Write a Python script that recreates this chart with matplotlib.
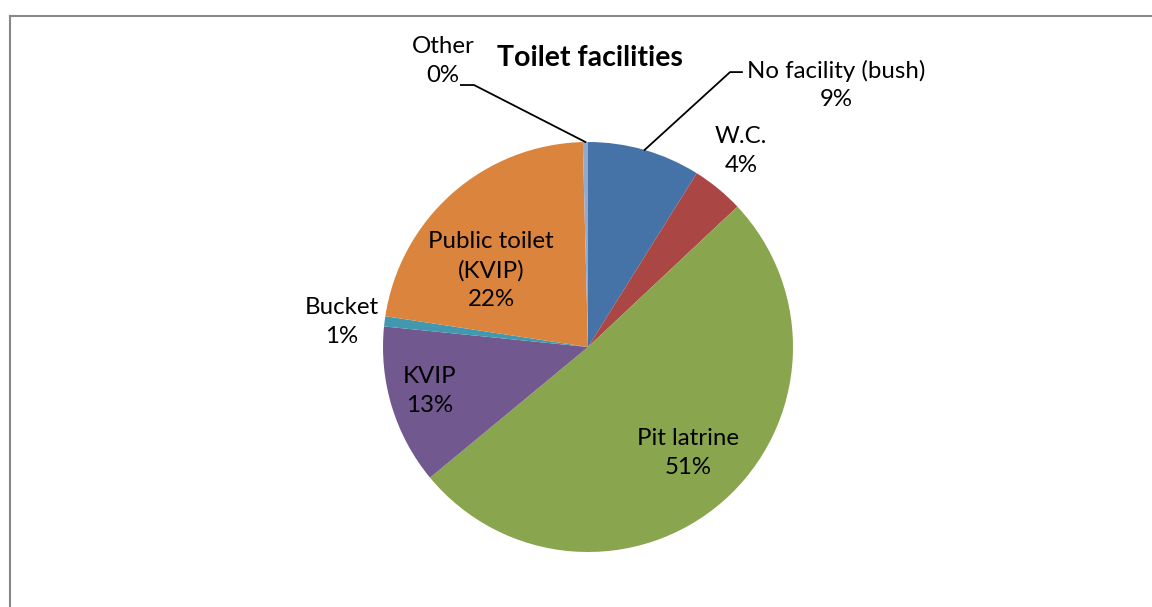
import numpy as np
import matplotlib
matplotlib.use("Agg")
import matplotlib.pyplot as plt
from matplotlib.lines import Line2D

# data
categories = ["No facility (bush)", "W.C.", "Pit latrine", "KVIP", "Bucket",
              "Public toilet\n(KVIP)", "Other"]
shares = [8.9, 4.1, 51.0, 12.6, 0.8, 22.2, 0.4]
colors = ["#4572A7", "#AA4643", "#89A54E", "#71588F", "#4198AF", "#DB843D", "#93A9CF"]

# label centres, in pie radii from the centre
label_xy = [(1.21, 1.278), (0.746, 0.956), (0.488, -0.517), (-0.771, -0.215),
            (-1.2, 0.122), (-0.473, 0.371), (-0.707, 1.395)]

W, H = 1152, 607
fig = plt.figure(figsize=(W / 100, H / 100), dpi=100)
ax = fig.add_axes([0, 0, 1, 1])

cx, cy, r = 588, 607 - 347, 205
wedges, _ = ax.pie(shares, colors=colors, startangle=90, counterclock=False,
                   radius=r, center=(cx, cy), frame=True,
                   wedgeprops=dict(linewidth=0))
ax.set_xlim(0, W)
ax.set_ylim(0, H)
ax.set_aspect("equal")
ax.axis("off")

font = "Lato"
for name, v, (lx, ly) in zip(categories, shares, label_xy):
    ax.text(cx + lx * r, cy + ly * r, f"{name}\n{v:.0f}%", ha="center", va="center",
            fontsize=17.3, family=font, color="black", linespacing=1.45)

# leader lines for the two outside labels
def leader(i, knee, end):
    w = wedges[i]
    mid = np.deg2rad((w.theta1 + w.theta2) / 2)
    p0 = (cx + r * np.cos(mid), cy + r * np.sin(mid))
    ax.plot([p0[0], cx + knee[0] * r, cx + end * r],
            [p0[1], cy + knee[1] * r, cy + knee[1] * r], color="black", lw=1.3)

leader(0, (0.693, 1.341), 0.751)
leader(6, (-0.556, 1.278), -0.62)

ax.text(cx + 0.01 * r, cy + 1.41 * r, "Toilet facilities", ha="center", va="center",
        fontsize=20.5, fontweight="bold", family=font)

# chart frame (only top and left edges visible)
fig.add_artist(Line2D([9.5 / W, 1], [1 - 16 / H, 1 - 16 / H], color="#888888", lw=1.5))
fig.add_artist(Line2D([9.5 / W, 9.5 / W], [0, 1 - 16 / H], color="#888888", lw=1.5))

fig.savefig("out.png", dpi=100)
